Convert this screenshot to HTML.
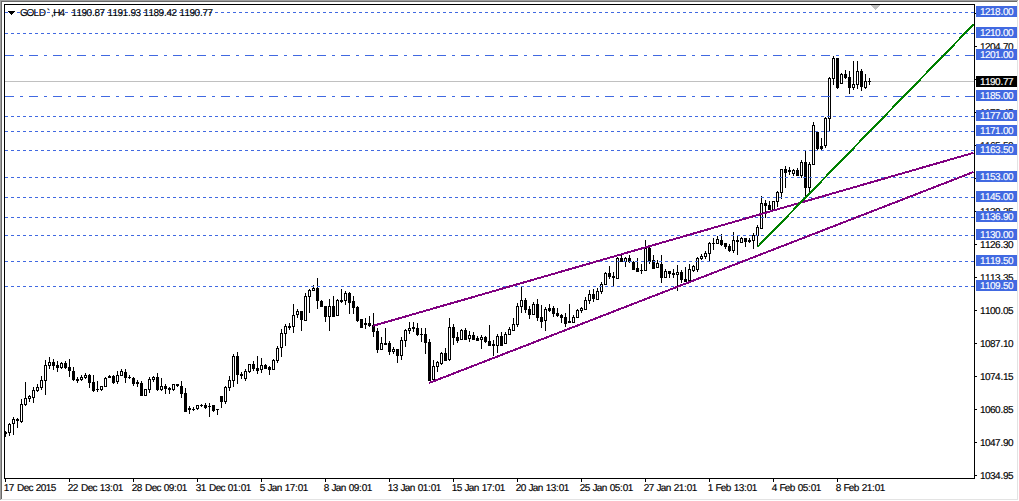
<!DOCTYPE html>
<html><head><meta charset="utf-8"><title>GOLD,H4</title>
<style>
html,body{margin:0;padding:0;background:#fff;width:1019px;height:501px;overflow:hidden}
svg{display:block}
.t{font-family:"Liberation Sans",Arial,sans-serif;font-size:10px;letter-spacing:0;fill:#000;stroke:#000;stroke-width:0.15px;text-rendering:geometricPrecision}
.w{fill:#fff;stroke:#fff}

</style></head><body>
<svg width="1019" height="501" viewBox="0 0 1019 501" shape-rendering="crispEdges">
<defs><clipPath id="cl"><rect x="5" y="5" width="969" height="473"/></clipPath></defs>
<rect x="0" y="0" width="1019" height="501" fill="#fff"/>
<rect x="0" y="0" width="1018" height="1" fill="#a0a0a0"/><rect x="0" y="0" width="1" height="500" fill="#a0a0a0"/><rect x="1" y="1" width="1016" height="1" fill="#696969"/><rect x="1" y="1" width="1" height="498" fill="#696969"/><rect x="1017" y="1" width="1" height="499" fill="#e3e3e3"/><rect x="1" y="499" width="1017" height="1" fill="#e3e3e3"/><rect x="5" y="81" width="969" height="1" fill="#c0c0c0"/><rect x="5" y="431" width="1" height="6" fill="#000"/><rect x="4" y="432" width="3" height="2" fill="#000"/><rect x="9" y="423" width="1" height="13" fill="#000"/><rect x="8" y="424" width="3" height="9" fill="#000"/><rect x="9" y="425" width="1" height="7" fill="#fff"/><rect x="13" y="417" width="1" height="18" fill="#000"/><rect x="12" y="419" width="3" height="5" fill="#000"/><rect x="13" y="420" width="1" height="3" fill="#fff"/><rect x="17" y="418" width="1" height="10" fill="#000"/><rect x="16" y="419" width="3" height="2" fill="#000"/><rect x="21" y="399" width="1" height="24" fill="#000"/><rect x="20" y="404" width="3" height="18" fill="#000"/><rect x="21" y="405" width="1" height="16" fill="#fff"/><rect x="25" y="382" width="1" height="24" fill="#000"/><rect x="24" y="398" width="3" height="7" fill="#000"/><rect x="25" y="399" width="1" height="5" fill="#fff"/><rect x="29" y="395" width="1" height="7" fill="#000"/><rect x="28" y="396" width="3" height="3" fill="#000"/><rect x="29" y="397" width="1" height="1" fill="#fff"/><rect x="33" y="387" width="1" height="16" fill="#000"/><rect x="32" y="390" width="3" height="8" fill="#000"/><rect x="33" y="391" width="1" height="6" fill="#fff"/><rect x="37" y="384" width="1" height="8" fill="#000"/><rect x="36" y="387" width="3" height="4" fill="#000"/><rect x="37" y="388" width="1" height="2" fill="#fff"/><rect x="41" y="376" width="1" height="14" fill="#000"/><rect x="40" y="380" width="3" height="8" fill="#000"/><rect x="41" y="381" width="1" height="6" fill="#fff"/><rect x="45" y="360" width="1" height="35" fill="#000"/><rect x="44" y="365" width="3" height="16" fill="#000"/><rect x="45" y="366" width="1" height="14" fill="#fff"/><rect x="49" y="357" width="1" height="12" fill="#000"/><rect x="48" y="362" width="3" height="4" fill="#000"/><rect x="49" y="363" width="1" height="2" fill="#fff"/><rect x="53" y="359" width="1" height="11" fill="#000"/><rect x="52" y="362" width="3" height="4" fill="#000"/><rect x="57" y="361" width="1" height="11" fill="#000"/><rect x="56" y="365" width="3" height="3" fill="#000"/><rect x="61" y="362" width="1" height="7" fill="#000"/><rect x="60" y="363" width="3" height="5" fill="#000"/><rect x="61" y="364" width="1" height="3" fill="#fff"/><rect x="65" y="361" width="1" height="8" fill="#000"/><rect x="64" y="363" width="3" height="5" fill="#000"/><rect x="69" y="359" width="1" height="18" fill="#000"/><rect x="68" y="367" width="3" height="4" fill="#000"/><rect x="73" y="367" width="1" height="14" fill="#000"/><rect x="72" y="371" width="3" height="9" fill="#000"/><rect x="77" y="377" width="1" height="6" fill="#000"/><rect x="76" y="379" width="3" height="2" fill="#000"/><rect x="81" y="375" width="1" height="6" fill="#000"/><rect x="80" y="377" width="3" height="3" fill="#000"/><rect x="81" y="378" width="1" height="1" fill="#fff"/><rect x="85" y="373" width="1" height="6" fill="#000"/><rect x="84" y="375" width="3" height="3" fill="#000"/><rect x="85" y="376" width="1" height="1" fill="#fff"/><rect x="89" y="374" width="1" height="14" fill="#000"/><rect x="88" y="375" width="3" height="8" fill="#000"/><rect x="93" y="375" width="1" height="17" fill="#000"/><rect x="92" y="382" width="3" height="9" fill="#000"/><rect x="97" y="381" width="1" height="11" fill="#000"/><rect x="96" y="389" width="3" height="1" fill="#000"/><rect x="101" y="386" width="1" height="5" fill="#000"/><rect x="100" y="386" width="3" height="4" fill="#000"/><rect x="101" y="387" width="1" height="2" fill="#fff"/><rect x="105" y="377" width="1" height="10" fill="#000"/><rect x="104" y="378" width="3" height="9" fill="#000"/><rect x="105" y="379" width="1" height="7" fill="#fff"/><rect x="109" y="375" width="1" height="3" fill="#000"/><rect x="108" y="376" width="3" height="2" fill="#000"/><rect x="113" y="375" width="1" height="9" fill="#000"/><rect x="112" y="376" width="3" height="7" fill="#000"/><rect x="117" y="371" width="1" height="13" fill="#000"/><rect x="116" y="375" width="3" height="7" fill="#000"/><rect x="117" y="376" width="1" height="5" fill="#fff"/><rect x="121" y="369" width="1" height="7" fill="#000"/><rect x="120" y="371" width="3" height="5" fill="#000"/><rect x="121" y="372" width="1" height="3" fill="#fff"/><rect x="125" y="369" width="1" height="14" fill="#000"/><rect x="124" y="372" width="3" height="6" fill="#000"/><rect x="129" y="375" width="1" height="4" fill="#000"/><rect x="128" y="377" width="3" height="1" fill="#000"/><rect x="133" y="377" width="1" height="9" fill="#000"/><rect x="132" y="378" width="3" height="6" fill="#000"/><rect x="137" y="380" width="1" height="7" fill="#000"/><rect x="136" y="382" width="3" height="2" fill="#000"/><rect x="141" y="381" width="1" height="15" fill="#000"/><rect x="140" y="383" width="3" height="13" fill="#000"/><rect x="145" y="389" width="1" height="7" fill="#000"/><rect x="144" y="389" width="3" height="7" fill="#000"/><rect x="145" y="390" width="1" height="5" fill="#fff"/><rect x="149" y="377" width="1" height="16" fill="#000"/><rect x="148" y="379" width="3" height="11" fill="#000"/><rect x="149" y="380" width="1" height="9" fill="#fff"/><rect x="153" y="376" width="1" height="6" fill="#000"/><rect x="152" y="377" width="3" height="3" fill="#000"/><rect x="153" y="378" width="1" height="1" fill="#fff"/><rect x="157" y="373" width="1" height="18" fill="#000"/><rect x="156" y="377" width="3" height="13" fill="#000"/><rect x="161" y="378" width="1" height="13" fill="#000"/><rect x="160" y="386" width="3" height="4" fill="#000"/><rect x="161" y="387" width="1" height="2" fill="#fff"/><rect x="165" y="384" width="1" height="10" fill="#000"/><rect x="164" y="386" width="3" height="3" fill="#000"/><rect x="169" y="387" width="1" height="7" fill="#000"/><rect x="168" y="388" width="3" height="2" fill="#000"/><rect x="173" y="384" width="1" height="7" fill="#000"/><rect x="172" y="384" width="3" height="6" fill="#000"/><rect x="173" y="385" width="1" height="4" fill="#fff"/><rect x="177" y="384" width="1" height="3" fill="#000"/><rect x="176" y="384" width="3" height="2" fill="#000"/><rect x="181" y="381" width="1" height="17" fill="#000"/><rect x="180" y="386" width="3" height="8" fill="#000"/><rect x="185" y="388" width="1" height="24" fill="#000"/><rect x="184" y="393" width="3" height="19" fill="#000"/><rect x="189" y="406" width="1" height="8" fill="#000"/><rect x="188" y="408" width="3" height="2" fill="#000"/><rect x="193" y="407" width="1" height="4" fill="#000"/><rect x="192" y="409" width="3" height="1" fill="#000"/><rect x="197" y="405" width="1" height="5" fill="#000"/><rect x="196" y="405" width="3" height="4" fill="#000"/><rect x="197" y="406" width="1" height="2" fill="#fff"/><rect x="201" y="404" width="1" height="3" fill="#000"/><rect x="200" y="405" width="3" height="1" fill="#000"/><rect x="205" y="403" width="1" height="6" fill="#000"/><rect x="204" y="405" width="3" height="3" fill="#000"/><rect x="209" y="403" width="1" height="14" fill="#000"/><rect x="208" y="406" width="3" height="1" fill="#000"/><rect x="213" y="405" width="1" height="7" fill="#000"/><rect x="212" y="405" width="3" height="6" fill="#000"/><rect x="217" y="409" width="1" height="6" fill="#000"/><rect x="216" y="409" width="3" height="1" fill="#000"/><rect x="221" y="396" width="1" height="12" fill="#000"/><rect x="220" y="396" width="3" height="6" fill="#000"/><rect x="225" y="386" width="1" height="18" fill="#000"/><rect x="224" y="387" width="3" height="15" fill="#000"/><rect x="225" y="388" width="1" height="13" fill="#fff"/><rect x="229" y="376" width="1" height="15" fill="#000"/><rect x="228" y="380" width="3" height="8" fill="#000"/><rect x="229" y="381" width="1" height="6" fill="#fff"/><rect x="233" y="354" width="1" height="33" fill="#000"/><rect x="232" y="356" width="3" height="25" fill="#000"/><rect x="233" y="357" width="1" height="23" fill="#fff"/><rect x="237" y="352" width="1" height="32" fill="#000"/><rect x="236" y="356" width="3" height="19" fill="#000"/><rect x="241" y="372" width="1" height="7" fill="#000"/><rect x="240" y="374" width="3" height="2" fill="#000"/><rect x="245" y="369" width="1" height="12" fill="#000"/><rect x="244" y="371" width="3" height="8" fill="#000"/><rect x="245" y="372" width="1" height="6" fill="#fff"/><rect x="249" y="364" width="1" height="9" fill="#000"/><rect x="248" y="364" width="3" height="8" fill="#000"/><rect x="249" y="365" width="1" height="6" fill="#fff"/><rect x="253" y="361" width="1" height="10" fill="#000"/><rect x="252" y="364" width="3" height="5" fill="#000"/><rect x="257" y="356" width="1" height="18" fill="#000"/><rect x="256" y="368" width="3" height="3" fill="#000"/><rect x="261" y="358" width="1" height="15" fill="#000"/><rect x="260" y="365" width="3" height="5" fill="#000"/><rect x="261" y="366" width="1" height="3" fill="#fff"/><rect x="265" y="364" width="1" height="5" fill="#000"/><rect x="264" y="365" width="3" height="4" fill="#000"/><rect x="269" y="366" width="1" height="9" fill="#000"/><rect x="268" y="367" width="3" height="3" fill="#000"/><rect x="273" y="359" width="1" height="11" fill="#000"/><rect x="272" y="360" width="3" height="10" fill="#000"/><rect x="273" y="361" width="1" height="8" fill="#fff"/><rect x="277" y="346" width="1" height="17" fill="#000"/><rect x="276" y="348" width="3" height="13" fill="#000"/><rect x="277" y="349" width="1" height="11" fill="#fff"/><rect x="281" y="329" width="1" height="28" fill="#000"/><rect x="280" y="333" width="3" height="15" fill="#000"/><rect x="281" y="334" width="1" height="13" fill="#fff"/><rect x="285" y="324" width="1" height="22" fill="#000"/><rect x="284" y="326" width="3" height="8" fill="#000"/><rect x="285" y="327" width="1" height="6" fill="#fff"/><rect x="289" y="323" width="1" height="7" fill="#000"/><rect x="288" y="326" width="3" height="2" fill="#000"/><rect x="293" y="304" width="1" height="29" fill="#000"/><rect x="292" y="315" width="3" height="12" fill="#000"/><rect x="293" y="316" width="1" height="10" fill="#fff"/><rect x="297" y="309" width="1" height="9" fill="#000"/><rect x="296" y="311" width="3" height="4" fill="#000"/><rect x="297" y="312" width="1" height="2" fill="#fff"/><rect x="301" y="311" width="1" height="20" fill="#000"/><rect x="300" y="311" width="3" height="9" fill="#000"/><rect x="305" y="293" width="1" height="28" fill="#000"/><rect x="304" y="296" width="3" height="25" fill="#000"/><rect x="305" y="297" width="1" height="23" fill="#fff"/><rect x="309" y="289" width="1" height="24" fill="#000"/><rect x="308" y="290" width="3" height="7" fill="#000"/><rect x="309" y="291" width="1" height="5" fill="#fff"/><rect x="313" y="285" width="1" height="6" fill="#000"/><rect x="312" y="288" width="3" height="3" fill="#000"/><rect x="313" y="289" width="1" height="1" fill="#fff"/><rect x="317" y="278" width="1" height="31" fill="#000"/><rect x="316" y="288" width="3" height="13" fill="#000"/><rect x="321" y="300" width="1" height="7" fill="#000"/><rect x="320" y="301" width="3" height="6" fill="#000"/><rect x="325" y="306" width="1" height="16" fill="#000"/><rect x="324" y="306" width="3" height="11" fill="#000"/><rect x="329" y="299" width="1" height="32" fill="#000"/><rect x="328" y="306" width="3" height="11" fill="#000"/><rect x="329" y="307" width="1" height="9" fill="#fff"/><rect x="333" y="296" width="1" height="21" fill="#000"/><rect x="332" y="306" width="3" height="11" fill="#000"/><rect x="337" y="299" width="1" height="17" fill="#000"/><rect x="336" y="300" width="3" height="16" fill="#000"/><rect x="337" y="301" width="1" height="14" fill="#fff"/><rect x="341" y="289" width="1" height="14" fill="#000"/><rect x="340" y="300" width="3" height="2" fill="#000"/><rect x="345" y="291" width="1" height="14" fill="#000"/><rect x="344" y="293" width="3" height="8" fill="#000"/><rect x="345" y="294" width="1" height="6" fill="#fff"/><rect x="349" y="292" width="1" height="22" fill="#000"/><rect x="348" y="293" width="3" height="10" fill="#000"/><rect x="353" y="296" width="1" height="18" fill="#000"/><rect x="352" y="301" width="3" height="7" fill="#000"/><rect x="357" y="306" width="1" height="16" fill="#000"/><rect x="356" y="307" width="3" height="14" fill="#000"/><rect x="361" y="319" width="1" height="9" fill="#000"/><rect x="360" y="319" width="3" height="9" fill="#000"/><rect x="365" y="318" width="1" height="11" fill="#000"/><rect x="364" y="323" width="3" height="2" fill="#000"/><rect x="369" y="316" width="1" height="11" fill="#000"/><rect x="368" y="323" width="3" height="3" fill="#000"/><rect x="373" y="313" width="1" height="24" fill="#000"/><rect x="372" y="325" width="3" height="7" fill="#000"/><rect x="377" y="328" width="1" height="25" fill="#000"/><rect x="376" y="331" width="3" height="19" fill="#000"/><rect x="381" y="337" width="1" height="13" fill="#000"/><rect x="380" y="343" width="3" height="7" fill="#000"/><rect x="381" y="344" width="1" height="5" fill="#fff"/><rect x="385" y="328" width="1" height="17" fill="#000"/><rect x="384" y="343" width="3" height="2" fill="#000"/><rect x="389" y="341" width="1" height="14" fill="#000"/><rect x="388" y="343" width="3" height="9" fill="#000"/><rect x="393" y="347" width="1" height="7" fill="#000"/><rect x="392" y="349" width="3" height="3" fill="#000"/><rect x="393" y="350" width="1" height="1" fill="#fff"/><rect x="397" y="349" width="1" height="14" fill="#000"/><rect x="396" y="349" width="3" height="7" fill="#000"/><rect x="401" y="337" width="1" height="23" fill="#000"/><rect x="400" y="340" width="3" height="16" fill="#000"/><rect x="401" y="341" width="1" height="14" fill="#fff"/><rect x="405" y="329" width="1" height="18" fill="#000"/><rect x="404" y="330" width="3" height="11" fill="#000"/><rect x="405" y="331" width="1" height="9" fill="#fff"/><rect x="409" y="322" width="1" height="12" fill="#000"/><rect x="408" y="328" width="3" height="3" fill="#000"/><rect x="409" y="329" width="1" height="1" fill="#fff"/><rect x="413" y="322" width="1" height="10" fill="#000"/><rect x="412" y="327" width="3" height="2" fill="#000"/><rect x="417" y="323" width="1" height="13" fill="#000"/><rect x="416" y="328" width="3" height="7" fill="#000"/><rect x="421" y="328" width="1" height="14" fill="#000"/><rect x="420" y="334" width="3" height="1" fill="#000"/><rect x="425" y="328" width="1" height="26" fill="#000"/><rect x="424" y="334" width="3" height="9" fill="#000"/><rect x="429" y="339" width="1" height="42" fill="#000"/><rect x="428" y="342" width="3" height="39" fill="#000"/><rect x="433" y="360" width="1" height="20" fill="#000"/><rect x="432" y="366" width="3" height="14" fill="#000"/><rect x="433" y="367" width="1" height="12" fill="#fff"/><rect x="437" y="361" width="1" height="11" fill="#000"/><rect x="436" y="362" width="3" height="5" fill="#000"/><rect x="437" y="363" width="1" height="3" fill="#fff"/><rect x="441" y="352" width="1" height="13" fill="#000"/><rect x="440" y="353" width="3" height="11" fill="#000"/><rect x="441" y="354" width="1" height="9" fill="#fff"/><rect x="445" y="348" width="1" height="13" fill="#000"/><rect x="444" y="353" width="3" height="8" fill="#000"/><rect x="449" y="318" width="1" height="43" fill="#000"/><rect x="448" y="327" width="3" height="33" fill="#000"/><rect x="449" y="328" width="1" height="31" fill="#fff"/><rect x="453" y="324" width="1" height="21" fill="#000"/><rect x="452" y="327" width="3" height="11" fill="#000"/><rect x="457" y="332" width="1" height="11" fill="#000"/><rect x="456" y="337" width="3" height="4" fill="#000"/><rect x="461" y="329" width="1" height="11" fill="#000"/><rect x="460" y="330" width="3" height="10" fill="#000"/><rect x="461" y="331" width="1" height="8" fill="#fff"/><rect x="465" y="328" width="1" height="12" fill="#000"/><rect x="464" y="330" width="3" height="10" fill="#000"/><rect x="469" y="331" width="1" height="11" fill="#000"/><rect x="468" y="335" width="3" height="4" fill="#000"/><rect x="469" y="336" width="1" height="2" fill="#fff"/><rect x="473" y="332" width="1" height="8" fill="#000"/><rect x="472" y="335" width="3" height="5" fill="#000"/><rect x="477" y="336" width="1" height="5" fill="#000"/><rect x="476" y="338" width="3" height="3" fill="#000"/><rect x="481" y="335" width="1" height="14" fill="#000"/><rect x="480" y="337" width="3" height="3" fill="#000"/><rect x="481" y="338" width="1" height="1" fill="#fff"/><rect x="485" y="336" width="1" height="7" fill="#000"/><rect x="484" y="337" width="3" height="5" fill="#000"/><rect x="489" y="325" width="1" height="21" fill="#000"/><rect x="488" y="341" width="3" height="5" fill="#000"/><rect x="493" y="340" width="1" height="16" fill="#000"/><rect x="492" y="344" width="3" height="2" fill="#000"/><rect x="497" y="334" width="1" height="19" fill="#000"/><rect x="496" y="336" width="3" height="10" fill="#000"/><rect x="497" y="337" width="1" height="8" fill="#fff"/><rect x="501" y="332" width="1" height="14" fill="#000"/><rect x="500" y="336" width="3" height="10" fill="#000"/><rect x="505" y="332" width="1" height="12" fill="#000"/><rect x="504" y="334" width="3" height="10" fill="#000"/><rect x="505" y="335" width="1" height="8" fill="#fff"/><rect x="509" y="327" width="1" height="8" fill="#000"/><rect x="508" y="329" width="3" height="6" fill="#000"/><rect x="509" y="330" width="1" height="4" fill="#fff"/><rect x="513" y="318" width="1" height="13" fill="#000"/><rect x="512" y="324" width="3" height="7" fill="#000"/><rect x="513" y="325" width="1" height="5" fill="#fff"/><rect x="517" y="303" width="1" height="24" fill="#000"/><rect x="516" y="306" width="3" height="19" fill="#000"/><rect x="517" y="307" width="1" height="17" fill="#fff"/><rect x="521" y="287" width="1" height="26" fill="#000"/><rect x="520" y="300" width="3" height="7" fill="#000"/><rect x="521" y="301" width="1" height="5" fill="#fff"/><rect x="525" y="298" width="1" height="15" fill="#000"/><rect x="524" y="300" width="3" height="10" fill="#000"/><rect x="529" y="306" width="1" height="13" fill="#000"/><rect x="528" y="309" width="3" height="6" fill="#000"/><rect x="533" y="302" width="1" height="13" fill="#000"/><rect x="532" y="304" width="3" height="11" fill="#000"/><rect x="533" y="305" width="1" height="9" fill="#fff"/><rect x="537" y="299" width="1" height="22" fill="#000"/><rect x="536" y="304" width="3" height="14" fill="#000"/><rect x="541" y="305" width="1" height="23" fill="#000"/><rect x="540" y="317" width="3" height="5" fill="#000"/><rect x="545" y="307" width="1" height="24" fill="#000"/><rect x="544" y="309" width="3" height="12" fill="#000"/><rect x="545" y="310" width="1" height="10" fill="#fff"/><rect x="549" y="304" width="1" height="8" fill="#000"/><rect x="548" y="308" width="3" height="3" fill="#000"/><rect x="553" y="306" width="1" height="11" fill="#000"/><rect x="552" y="308" width="3" height="6" fill="#000"/><rect x="557" y="308" width="1" height="9" fill="#000"/><rect x="556" y="313" width="3" height="3" fill="#000"/><rect x="561" y="314" width="1" height="9" fill="#000"/><rect x="560" y="315" width="3" height="3" fill="#000"/><rect x="565" y="313" width="1" height="14" fill="#000"/><rect x="564" y="317" width="3" height="7" fill="#000"/><rect x="569" y="304" width="1" height="19" fill="#000"/><rect x="568" y="321" width="3" height="2" fill="#000"/><rect x="573" y="315" width="1" height="8" fill="#000"/><rect x="572" y="317" width="3" height="6" fill="#000"/><rect x="573" y="318" width="1" height="4" fill="#fff"/><rect x="577" y="309" width="1" height="9" fill="#000"/><rect x="576" y="310" width="3" height="8" fill="#000"/><rect x="577" y="311" width="1" height="6" fill="#fff"/><rect x="581" y="307" width="1" height="6" fill="#000"/><rect x="580" y="308" width="3" height="3" fill="#000"/><rect x="581" y="309" width="1" height="1" fill="#fff"/><rect x="585" y="297" width="1" height="13" fill="#000"/><rect x="584" y="300" width="3" height="10" fill="#000"/><rect x="585" y="301" width="1" height="8" fill="#fff"/><rect x="589" y="290" width="1" height="14" fill="#000"/><rect x="588" y="294" width="3" height="7" fill="#000"/><rect x="589" y="295" width="1" height="5" fill="#fff"/><rect x="593" y="289" width="1" height="13" fill="#000"/><rect x="592" y="294" width="3" height="5" fill="#000"/><rect x="597" y="288" width="1" height="12" fill="#000"/><rect x="596" y="291" width="3" height="9" fill="#000"/><rect x="597" y="292" width="1" height="7" fill="#fff"/><rect x="601" y="282" width="1" height="12" fill="#000"/><rect x="600" y="284" width="3" height="8" fill="#000"/><rect x="601" y="285" width="1" height="6" fill="#fff"/><rect x="605" y="272" width="1" height="13" fill="#000"/><rect x="604" y="273" width="3" height="12" fill="#000"/><rect x="605" y="274" width="1" height="10" fill="#fff"/><rect x="609" y="266" width="1" height="13" fill="#000"/><rect x="608" y="273" width="3" height="4" fill="#000"/><rect x="613" y="272" width="1" height="14" fill="#000"/><rect x="612" y="276" width="3" height="2" fill="#000"/><rect x="617" y="257" width="1" height="22" fill="#000"/><rect x="616" y="258" width="3" height="21" fill="#000"/><rect x="617" y="259" width="1" height="19" fill="#fff"/><rect x="621" y="255" width="1" height="7" fill="#000"/><rect x="620" y="258" width="3" height="4" fill="#000"/><rect x="625" y="257" width="1" height="10" fill="#000"/><rect x="624" y="258" width="3" height="4" fill="#000"/><rect x="625" y="259" width="1" height="2" fill="#fff"/><rect x="629" y="255" width="1" height="8" fill="#000"/><rect x="628" y="258" width="3" height="4" fill="#000"/><rect x="633" y="261" width="1" height="9" fill="#000"/><rect x="632" y="262" width="3" height="8" fill="#000"/><rect x="637" y="258" width="1" height="14" fill="#000"/><rect x="636" y="268" width="3" height="4" fill="#000"/><rect x="641" y="264" width="1" height="10" fill="#000"/><rect x="640" y="270" width="3" height="1" fill="#000"/><rect x="645" y="240" width="1" height="31" fill="#000"/><rect x="644" y="248" width="3" height="23" fill="#000"/><rect x="645" y="249" width="1" height="21" fill="#fff"/><rect x="649" y="247" width="1" height="17" fill="#000"/><rect x="648" y="248" width="3" height="14" fill="#000"/><rect x="653" y="255" width="1" height="14" fill="#000"/><rect x="652" y="260" width="3" height="9" fill="#000"/><rect x="657" y="260" width="1" height="8" fill="#000"/><rect x="656" y="263" width="3" height="5" fill="#000"/><rect x="657" y="264" width="1" height="3" fill="#fff"/><rect x="661" y="255" width="1" height="28" fill="#000"/><rect x="660" y="264" width="3" height="14" fill="#000"/><rect x="665" y="269" width="1" height="9" fill="#000"/><rect x="664" y="271" width="3" height="7" fill="#000"/><rect x="665" y="272" width="1" height="5" fill="#fff"/><rect x="669" y="271" width="1" height="7" fill="#000"/><rect x="668" y="271" width="3" height="3" fill="#000"/><rect x="673" y="269" width="1" height="9" fill="#000"/><rect x="672" y="273" width="3" height="2" fill="#000"/><rect x="677" y="265" width="1" height="26" fill="#000"/><rect x="676" y="272" width="3" height="3" fill="#000"/><rect x="677" y="273" width="1" height="1" fill="#fff"/><rect x="681" y="270" width="1" height="13" fill="#000"/><rect x="680" y="272" width="3" height="8" fill="#000"/><rect x="685" y="267" width="1" height="15" fill="#000"/><rect x="684" y="279" width="3" height="3" fill="#000"/><rect x="689" y="264" width="1" height="17" fill="#000"/><rect x="688" y="269" width="3" height="12" fill="#000"/><rect x="689" y="270" width="1" height="10" fill="#fff"/><rect x="693" y="265" width="1" height="7" fill="#000"/><rect x="692" y="266" width="3" height="5" fill="#000"/><rect x="693" y="267" width="1" height="3" fill="#fff"/><rect x="697" y="257" width="1" height="15" fill="#000"/><rect x="696" y="258" width="3" height="12" fill="#000"/><rect x="697" y="259" width="1" height="10" fill="#fff"/><rect x="701" y="254" width="1" height="6" fill="#000"/><rect x="700" y="256" width="3" height="3" fill="#000"/><rect x="701" y="257" width="1" height="1" fill="#fff"/><rect x="705" y="251" width="1" height="8" fill="#000"/><rect x="704" y="253" width="3" height="4" fill="#000"/><rect x="705" y="254" width="1" height="2" fill="#fff"/><rect x="709" y="242" width="1" height="19" fill="#000"/><rect x="708" y="243" width="3" height="11" fill="#000"/><rect x="709" y="244" width="1" height="9" fill="#fff"/><rect x="713" y="238" width="1" height="12" fill="#000"/><rect x="712" y="243" width="3" height="1" fill="#000"/><rect x="717" y="236" width="1" height="8" fill="#000"/><rect x="716" y="239" width="3" height="5" fill="#000"/><rect x="717" y="240" width="1" height="3" fill="#fff"/><rect x="721" y="234" width="1" height="12" fill="#000"/><rect x="720" y="240" width="3" height="5" fill="#000"/><rect x="725" y="243" width="1" height="6" fill="#000"/><rect x="724" y="243" width="3" height="4" fill="#000"/><rect x="729" y="244" width="1" height="8" fill="#000"/><rect x="728" y="246" width="3" height="5" fill="#000"/><rect x="733" y="232" width="1" height="21" fill="#000"/><rect x="732" y="240" width="3" height="11" fill="#000"/><rect x="733" y="241" width="1" height="9" fill="#fff"/><rect x="737" y="236" width="1" height="19" fill="#000"/><rect x="736" y="240" width="3" height="2" fill="#000"/><rect x="741" y="237" width="1" height="6" fill="#000"/><rect x="740" y="238" width="3" height="5" fill="#000"/><rect x="741" y="239" width="1" height="3" fill="#fff"/><rect x="745" y="238" width="1" height="9" fill="#000"/><rect x="744" y="238" width="3" height="4" fill="#000"/><rect x="749" y="238" width="1" height="5" fill="#000"/><rect x="748" y="240" width="3" height="2" fill="#000"/><rect x="753" y="233" width="1" height="16" fill="#000"/><rect x="752" y="235" width="3" height="6" fill="#000"/><rect x="753" y="236" width="1" height="4" fill="#fff"/><rect x="757" y="225" width="1" height="21" fill="#000"/><rect x="756" y="227" width="3" height="9" fill="#000"/><rect x="757" y="228" width="1" height="7" fill="#fff"/><rect x="761" y="196" width="1" height="33" fill="#000"/><rect x="760" y="203" width="3" height="26" fill="#000"/><rect x="761" y="204" width="1" height="24" fill="#fff"/><rect x="765" y="200" width="1" height="18" fill="#000"/><rect x="764" y="203" width="3" height="3" fill="#000"/><rect x="769" y="201" width="1" height="9" fill="#000"/><rect x="768" y="205" width="3" height="5" fill="#000"/><rect x="773" y="201" width="1" height="9" fill="#000"/><rect x="772" y="201" width="3" height="9" fill="#000"/><rect x="773" y="202" width="1" height="7" fill="#fff"/><rect x="777" y="191" width="1" height="16" fill="#000"/><rect x="776" y="192" width="3" height="10" fill="#000"/><rect x="777" y="193" width="1" height="8" fill="#fff"/><rect x="781" y="169" width="1" height="30" fill="#000"/><rect x="780" y="169" width="3" height="24" fill="#000"/><rect x="781" y="170" width="1" height="22" fill="#fff"/><rect x="785" y="166" width="1" height="22" fill="#000"/><rect x="784" y="169" width="3" height="4" fill="#000"/><rect x="789" y="167" width="1" height="8" fill="#000"/><rect x="788" y="170" width="3" height="2" fill="#000"/><rect x="793" y="169" width="1" height="7" fill="#000"/><rect x="792" y="170" width="3" height="4" fill="#000"/><rect x="793" y="171" width="1" height="2" fill="#fff"/><rect x="797" y="168" width="1" height="8" fill="#000"/><rect x="796" y="170" width="3" height="6" fill="#000"/><rect x="801" y="160" width="1" height="18" fill="#000"/><rect x="800" y="162" width="3" height="14" fill="#000"/><rect x="801" y="163" width="1" height="12" fill="#fff"/><rect x="805" y="151" width="1" height="46" fill="#000"/><rect x="804" y="162" width="3" height="26" fill="#000"/><rect x="809" y="162" width="1" height="30" fill="#000"/><rect x="808" y="164" width="3" height="24" fill="#000"/><rect x="809" y="165" width="1" height="22" fill="#fff"/><rect x="813" y="122" width="1" height="43" fill="#000"/><rect x="812" y="125" width="3" height="40" fill="#000"/><rect x="813" y="126" width="1" height="38" fill="#fff"/><rect x="817" y="132" width="1" height="18" fill="#000"/><rect x="816" y="132" width="3" height="17" fill="#000"/><rect x="821" y="138" width="1" height="12" fill="#000"/><rect x="820" y="146" width="3" height="3" fill="#000"/><rect x="825" y="117" width="1" height="31" fill="#000"/><rect x="824" y="118" width="3" height="28" fill="#000"/><rect x="825" y="119" width="1" height="26" fill="#fff"/><rect x="829" y="77" width="1" height="54" fill="#000"/><rect x="828" y="78" width="3" height="41" fill="#000"/><rect x="829" y="79" width="1" height="39" fill="#fff"/><rect x="833" y="56" width="1" height="29" fill="#000"/><rect x="832" y="58" width="3" height="21" fill="#000"/><rect x="833" y="59" width="1" height="19" fill="#fff"/><rect x="837" y="58" width="1" height="31" fill="#000"/><rect x="836" y="58" width="3" height="30" fill="#000"/><rect x="841" y="73" width="1" height="11" fill="#000"/><rect x="840" y="74" width="3" height="10" fill="#000"/><rect x="841" y="75" width="1" height="8" fill="#fff"/><rect x="845" y="70" width="1" height="9" fill="#000"/><rect x="844" y="74" width="3" height="4" fill="#000"/><rect x="849" y="71" width="1" height="23" fill="#000"/><rect x="848" y="77" width="3" height="11" fill="#000"/><rect x="853" y="61" width="1" height="29" fill="#000"/><rect x="852" y="84" width="3" height="4" fill="#000"/><rect x="853" y="85" width="1" height="2" fill="#fff"/><rect x="857" y="61" width="1" height="28" fill="#000"/><rect x="856" y="71" width="3" height="14" fill="#000"/><rect x="857" y="72" width="1" height="12" fill="#fff"/><rect x="861" y="69" width="1" height="22" fill="#000"/><rect x="860" y="71" width="3" height="16" fill="#000"/><rect x="865" y="74" width="1" height="15" fill="#000"/><rect x="864" y="81" width="3" height="7" fill="#000"/><rect x="865" y="82" width="1" height="5" fill="#fff"/><rect x="869" y="78" width="1" height="7" fill="#000"/><rect x="868" y="81" width="3" height="1" fill="#000"/><line x1="5" y1="12.5" x2="974" y2="12.5" stroke="#4169e1" stroke-width="1" stroke-dasharray="3 3"/><line x1="5" y1="33.5" x2="974" y2="33.5" stroke="#4169e1" stroke-width="1" stroke-dasharray="3 3"/><line x1="5" y1="116.5" x2="974" y2="116.5" stroke="#4169e1" stroke-width="1" stroke-dasharray="3 3"/><line x1="5" y1="131.5" x2="974" y2="131.5" stroke="#4169e1" stroke-width="1" stroke-dasharray="3 3"/><line x1="5" y1="150.5" x2="974" y2="150.5" stroke="#4169e1" stroke-width="1" stroke-dasharray="3 3"/><line x1="5" y1="177.5" x2="974" y2="177.5" stroke="#4169e1" stroke-width="1" stroke-dasharray="3 3"/><line x1="5" y1="197.5" x2="974" y2="197.5" stroke="#4169e1" stroke-width="1" stroke-dasharray="3 3"/><line x1="5" y1="217.5" x2="974" y2="217.5" stroke="#4169e1" stroke-width="1" stroke-dasharray="3 3"/><line x1="5" y1="235.5" x2="974" y2="235.5" stroke="#4169e1" stroke-width="1" stroke-dasharray="3 3"/><line x1="5" y1="261.5" x2="974" y2="261.5" stroke="#4169e1" stroke-width="1" stroke-dasharray="3 3"/><line x1="5" y1="286.5" x2="974" y2="286.5" stroke="#4169e1" stroke-width="1" stroke-dasharray="3 3"/><line x1="5" y1="55.5" x2="974" y2="55.5" stroke="#4169e1" stroke-width="1" stroke-dasharray="9 6 3 6"/><line x1="5" y1="96.5" x2="974" y2="96.5" stroke="#4169e1" stroke-width="1" stroke-dasharray="9 6 3 6"/><g clip-path="url(#cl)"><line x1="373" y1="325.85" x2="973.5" y2="152.85" stroke="#800080" stroke-width="2"/><line x1="429" y1="383" x2="973.5" y2="172" stroke="#800080" stroke-width="2"/><line x1="757.5" y1="247" x2="974" y2="24" stroke="#008000" stroke-width="2"/></g><rect x="4" y="4" width="971" height="1" fill="#000"/><rect x="4" y="4" width="1" height="475" fill="#000"/><rect x="974" y="4" width="1" height="475" fill="#000"/><rect x="4" y="478" width="971" height="1" fill="#000"/><rect x="871" y="5" width="9" height="1" fill="#c0c0c0"/><rect x="872" y="6" width="7" height="1" fill="#c0c0c0"/><rect x="873" y="7" width="5" height="1" fill="#c0c0c0"/><rect x="874" y="8" width="3" height="1" fill="#c0c0c0"/><rect x="875" y="9" width="1" height="1" fill="#c0c0c0"/><rect x="975" y="13" width="2" height="1" fill="#000"/><rect x="975" y="79" width="2" height="1" fill="#000"/><rect x="975" y="178" width="2" height="1" fill="#000"/><rect x="975" y="46" width="2" height="1" fill="#000"/><rect x="975" y="112" width="2" height="1" fill="#000"/><rect x="975" y="145" width="2" height="1" fill="#000"/><rect x="975" y="211" width="2" height="1" fill="#000"/><rect x="975" y="244" width="2" height="1" fill="#000"/><rect x="975" y="277" width="2" height="1" fill="#000"/><rect x="975" y="310" width="2" height="1" fill="#000"/><rect x="975" y="343" width="2" height="1" fill="#000"/><rect x="975" y="376" width="2" height="1" fill="#000"/><rect x="975" y="409" width="2" height="1" fill="#000"/><rect x="975" y="442" width="2" height="1" fill="#000"/><rect x="975" y="475" width="2" height="1" fill="#000"/><rect x="5" y="479" width="1" height="3" fill="#000"/><rect x="69" y="479" width="1" height="3" fill="#000"/><rect x="133" y="479" width="1" height="3" fill="#000"/><rect x="197" y="479" width="1" height="3" fill="#000"/><rect x="261" y="479" width="1" height="3" fill="#000"/><rect x="325" y="479" width="1" height="3" fill="#000"/><rect x="389" y="479" width="1" height="3" fill="#000"/><rect x="453" y="479" width="1" height="3" fill="#000"/><rect x="517" y="479" width="1" height="3" fill="#000"/><rect x="581" y="479" width="1" height="3" fill="#000"/><rect x="645" y="479" width="1" height="3" fill="#000"/><rect x="709" y="479" width="1" height="3" fill="#000"/><rect x="773" y="479" width="1" height="3" fill="#000"/><rect x="837" y="479" width="1" height="3" fill="#000"/>
<text x="980.0 985.0 990.0 995.0 1000.39 1003.0 1008.0" y="50" class="t">1204.70</text><text x="980.0 985.0 990.0 995.0 1000.39 1003.0 1008.0" y="116" class="t">1178.45</text><text x="980.0 985.0 990.0 995.0 1000.39 1003.0 1008.0" y="149" class="t">1165.50</text><text x="980.0 985.0 990.0 995.0 1000.39 1003.0 1008.0" y="215" class="t">1139.35</text><text x="980.0 985.0 990.0 995.0 1000.39 1003.0 1008.0" y="248" class="t">1126.30</text><text x="980.0 985.0 990.0 995.0 1000.39 1003.0 1008.0" y="281" class="t">1113.35</text><text x="980.0 985.0 990.0 995.0 1000.39 1003.0 1008.0" y="314" class="t">1100.05</text><text x="980.0 985.0 990.0 995.0 1000.39 1003.0 1008.0" y="347" class="t">1087.10</text><text x="980.0 985.0 990.0 995.0 1000.39 1003.0 1008.0" y="380" class="t">1074.15</text><text x="980.0 985.0 990.0 995.0 1000.39 1003.0 1008.0" y="413" class="t">1060.85</text><text x="980.0 985.0 990.0 995.0 1000.39 1003.0 1008.0" y="446" class="t">1047.90</text><text x="980.0 985.0 990.0 995.0 1000.39 1003.0 1008.0" y="479" class="t">1034.95</text><text x="3.72 8.72 14.11 16.89 23.72 28.5 33.11 35.72 40.72 45.72 50.72" y="491" class="t">17 Dec 2015</text><text x="67.72 72.72 78.11 80.89 87.72 92.5 97.11 99.72 104.72 110.11 112.72 117.72" y="491" class="t">22 Dec 13:01</text><text x="131.72 136.72 142.11 144.89 151.72 156.5 161.11 163.72 168.72 174.11 176.72 181.72" y="491" class="t">28 Dec 09:01</text><text x="195.72 200.72 206.11 208.89 215.72 220.5 225.11 227.72 232.72 238.11 240.72 245.72" y="491" class="t">31 Dec 01:01</text><text x="259.72 265.11 267.5 271.72 276.72 282.11 284.72 289.72 295.11 297.72 302.72" y="491" class="t">5 Jan 17:01</text><text x="323.72 329.11 331.5 335.72 340.72 346.11 348.72 353.72 359.11 361.72 366.72" y="491" class="t">8 Jan 09:01</text><text x="387.72 392.72 398.11 400.5 404.72 409.72 415.11 417.72 422.72 428.11 430.72 435.72" y="491" class="t">13 Jan 01:01</text><text x="451.72 456.72 462.11 464.5 468.72 473.72 479.11 481.72 486.72 492.11 494.72 499.72" y="491" class="t">15 Jan 17:01</text><text x="515.72 520.72 526.11 528.5 532.72 537.72 543.11 545.72 550.72 556.11 558.72 563.72" y="491" class="t">20 Jan 13:01</text><text x="579.72 584.72 590.11 592.5 596.72 601.72 607.11 609.72 614.72 620.11 622.72 627.72" y="491" class="t">25 Jan 05:01</text><text x="643.72 648.72 654.11 656.5 660.72 665.72 671.11 673.72 678.72 684.11 686.72 691.72" y="491" class="t">27 Jan 21:01</text><text x="707.72 713.11 715.45 720.72 725.72 731.11 733.72 738.72 744.11 746.72 751.72" y="491" class="t">1 Feb 13:01</text><text x="771.72 777.11 779.45 784.72 789.72 795.11 797.72 802.72 808.11 810.72 815.72" y="491" class="t">4 Feb 05:01</text><text x="835.72 841.11 843.45 848.72 853.72 859.11 861.72 866.72 872.11 874.72 879.72" y="491" class="t">8 Feb 21:01</text><rect x="976" y="6" width="41" height="11" fill="#4169e1"/><text x="980.0 985.0 990.0 995.0 1000.39 1003.0 1008.0" y="15" class="t w">1218.00</text><rect x="976" y="27" width="41" height="11" fill="#4169e1"/><text x="980.0 985.0 990.0 995.0 1000.39 1003.0 1008.0" y="36" class="t w">1210.00</text><rect x="976" y="49" width="41" height="11" fill="#4169e1"/><text x="980.0 985.0 990.0 995.0 1000.39 1003.0 1008.0" y="58" class="t w">1201.00</text><rect x="976" y="90" width="41" height="11" fill="#4169e1"/><text x="980.0 985.0 990.0 995.0 1000.39 1003.0 1008.0" y="99" class="t w">1185.00</text><rect x="976" y="110" width="41" height="11" fill="#4169e1"/><text x="980.0 985.0 990.0 995.0 1000.39 1003.0 1008.0" y="119" class="t w">1177.00</text><rect x="976" y="125" width="41" height="11" fill="#4169e1"/><text x="980.0 985.0 990.0 995.0 1000.39 1003.0 1008.0" y="134" class="t w">1171.00</text><rect x="976" y="144" width="41" height="11" fill="#4169e1"/><text x="980.0 985.0 990.0 995.0 1000.39 1003.0 1008.0" y="153" class="t w">1163.50</text><rect x="976" y="171" width="41" height="11" fill="#4169e1"/><text x="980.0 985.0 990.0 995.0 1000.39 1003.0 1008.0" y="180" class="t w">1153.00</text><rect x="976" y="191" width="41" height="11" fill="#4169e1"/><text x="980.0 985.0 990.0 995.0 1000.39 1003.0 1008.0" y="200" class="t w">1145.00</text><rect x="976" y="211" width="41" height="11" fill="#4169e1"/><text x="980.0 985.0 990.0 995.0 1000.39 1003.0 1008.0" y="220" class="t w">1136.90</text><rect x="976" y="229" width="41" height="11" fill="#4169e1"/><text x="980.0 985.0 990.0 995.0 1000.39 1003.0 1008.0" y="238" class="t w">1130.00</text><rect x="976" y="255" width="41" height="11" fill="#4169e1"/><text x="980.0 985.0 990.0 995.0 1000.39 1003.0 1008.0" y="264" class="t w">1119.50</text><rect x="976" y="280" width="41" height="11" fill="#4169e1"/><text x="980.0 985.0 990.0 995.0 1000.39 1003.0 1008.0" y="289" class="t w">1109.50</text><rect x="976" y="76" width="41" height="11" fill="#000"/><text x="980.0 985.0 990.0 995.0 1000.39 1003.0 1008.0" y="85" class="t w">1190.77</text><rect x="8" y="11" width="7" height="1" fill="#000"/><rect x="9" y="12" width="5" height="1" fill="#000"/><rect x="10" y="13" width="3" height="1" fill="#000"/><rect x="11" y="14" width="1" height="1" fill="#000"/><text x="20.01 26.51 33.62 38.79 46.73 51.01 53.29 59.62" y="16" class="t">GOLD`,H4</text><text x="71.5 76.5 81.5 86.5 91.89 94.5 99.5" y="16" class="t">1190.87</text><text x="107.5 112.5 117.5 122.5 127.89 130.5 135.5" y="16" class="t">1191.93</text><text x="143.5 148.5 153.5 158.5 163.89 166.5 171.5" y="16" class="t">1189.42</text><text x="179.5 184.5 189.5 194.5 199.89 202.5 207.5" y="16" class="t">1190.77</text>
</svg>
</body></html>
